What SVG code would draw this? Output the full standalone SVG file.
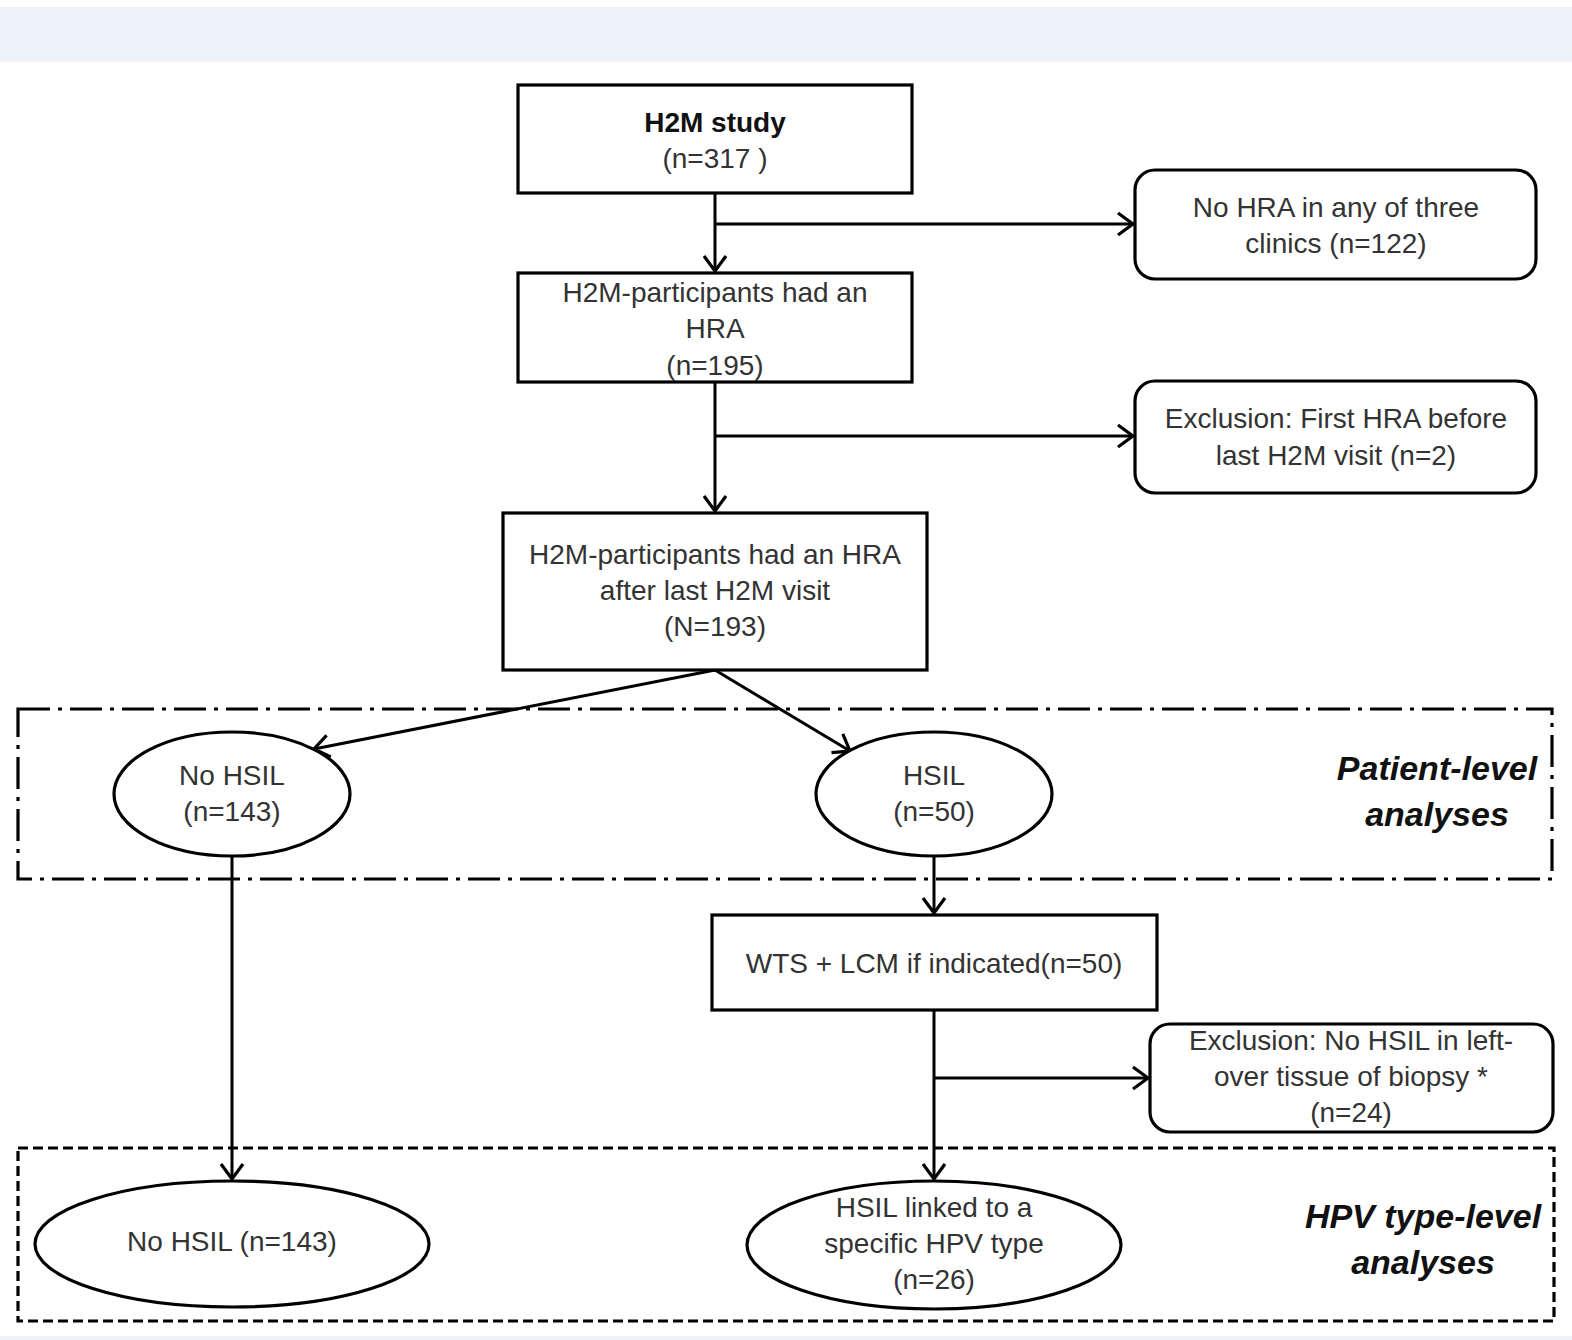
<svg xmlns="http://www.w3.org/2000/svg" width="1572" height="1340" viewBox="0 0 1572 1340">
<style>
.bx{fill:#fff;stroke:#000;stroke-width:3.2}
.t{font-family:"Liberation Sans",Arial,sans-serif;font-size:28px;fill:#333;text-anchor:middle}
.tb{font-weight:bold;fill:#111}
.lab{font-family:"Liberation Sans",Arial,sans-serif;font-size:34px;font-weight:bold;font-style:italic;fill:#111;text-anchor:middle}
.c{fill:none;stroke:#000;stroke-width:3}
.ca{fill:none;stroke:#000;stroke-width:3;marker-end:url(#ah)}
</style>
<defs>
<marker id="ah" markerUnits="userSpaceOnUse" viewBox="-18 -14 20 28" markerWidth="20" markerHeight="28" refX="0" refY="0" orient="auto">
<path d="M-15,-11 L0,0 L-15,11" fill="none" stroke="#000" stroke-width="3.2"/>
</marker>
</defs>
<rect x="0" y="0" width="1572" height="1340" fill="#fff"/>
<rect x="0" y="7" width="1572" height="55" fill="#edf1f8"/>
<rect x="0" y="1336" width="1572" height="4" fill="#edf1f8"/>

<g id="group-patient">
<rect x="18" y="709" width="1534" height="170" fill="none" stroke="#000" stroke-width="3.2" stroke-dasharray="32 8 4 8"/>
<text class="lab" x="1437" y="780">Patient-level</text>
<text class="lab" x="1437" y="826">analyses</text>
</g>
<g id="group-hpv">
<rect x="18" y="1148" width="1536" height="173" fill="none" stroke="#000" stroke-width="3.2" stroke-dasharray="10 5"/>
<text class="lab" x="1423" y="1228">HPV type-level</text>
<text class="lab" x="1423" y="1274">analyses</text>
</g>

<g id="connectors">
<path class="ca" d="M715,193 V271"/>
<path class="ca" d="M715,224 H1133"/>
<path class="ca" d="M715,382 V511"/>
<path class="ca" d="M715,436 H1133"/>
<path class="ca" d="M715,670 L314,749"/>
<path class="ca" d="M715,670 L850,751"/>
<path class="ca" d="M934,856 V913"/>
<path class="ca" d="M232,856 V1179"/>
<path class="ca" d="M934,1010 V1179"/>
<path class="ca" d="M934,1078 H1148"/>
</g>

<g id="h2m-study">
<rect class="bx" x="518" y="85" width="394" height="108"/>
<text class="t tb" x="715" y="132">H2M study</text>
<text class="t" x="715" y="168">(n=317 )</text>
</g>
<g id="had-hra">
<rect class="bx" x="518" y="273" width="394" height="109"/>
<text class="t" x="715" y="302">H2M-participants had an</text>
<text class="t" x="715" y="338">HRA</text>
<text class="t" x="715" y="375">(n=195)</text>
</g>
<g id="no-hra">
<rect class="bx" x="1135" y="170" width="401" height="109" rx="20"/>
<text class="t" x="1336" y="217">No HRA in any of three</text>
<text class="t" x="1336" y="253">clinics (n=122)</text>
</g>
<g id="excl-first">
<rect class="bx" x="1135" y="381" width="401" height="112" rx="20"/>
<text class="t" x="1336" y="428">Exclusion: First HRA before</text>
<text class="t" x="1336" y="465">last H2M visit (n=2)</text>
</g>
<g id="after-last">
<rect class="bx" x="503" y="513" width="424" height="157"/>
<text class="t" x="715" y="564">H2M-participants had an HRA</text>
<text class="t" x="715" y="600">after last H2M visit</text>
<text class="t" x="715" y="636">(N=193)</text>
</g>
<g id="no-hsil-1">
<ellipse class="bx" cx="232" cy="794" rx="118" ry="62"/>
<text class="t" x="232" y="785">No HSIL</text>
<text class="t" x="232" y="821">(n=143)</text>
</g>
<g id="hsil-1">
<ellipse class="bx" cx="934" cy="794" rx="118" ry="62"/>
<text class="t" x="934" y="785">HSIL</text>
<text class="t" x="934" y="821">(n=50)</text>
</g>
<g id="wts">
<rect class="bx" x="712" y="915" width="445" height="95"/>
<text class="t" x="934" y="973">WTS + LCM if indicated(n=50)</text>
</g>
<g id="excl-nohsil">
<rect class="bx" x="1150" y="1024" width="403" height="108" rx="20"/>
<text class="t" x="1351" y="1050">Exclusion: No HSIL in left-</text>
<text class="t" x="1351" y="1086">over tissue of biopsy *</text>
<text class="t" x="1351" y="1122">(n=24)</text>
</g>
<g id="no-hsil-2">
<ellipse class="bx" cx="232" cy="1244" rx="197" ry="63"/>
<text class="t" x="232" y="1251">No HSIL (n=143)</text>
</g>
<g id="hsil-linked">
<ellipse class="bx" cx="934" cy="1245" rx="187" ry="64"/>
<text class="t" x="934" y="1217">HSIL linked to a</text>
<text class="t" x="934" y="1253">specific HPV type</text>
<text class="t" x="934" y="1289">(n=26)</text>
</g>
</svg>
